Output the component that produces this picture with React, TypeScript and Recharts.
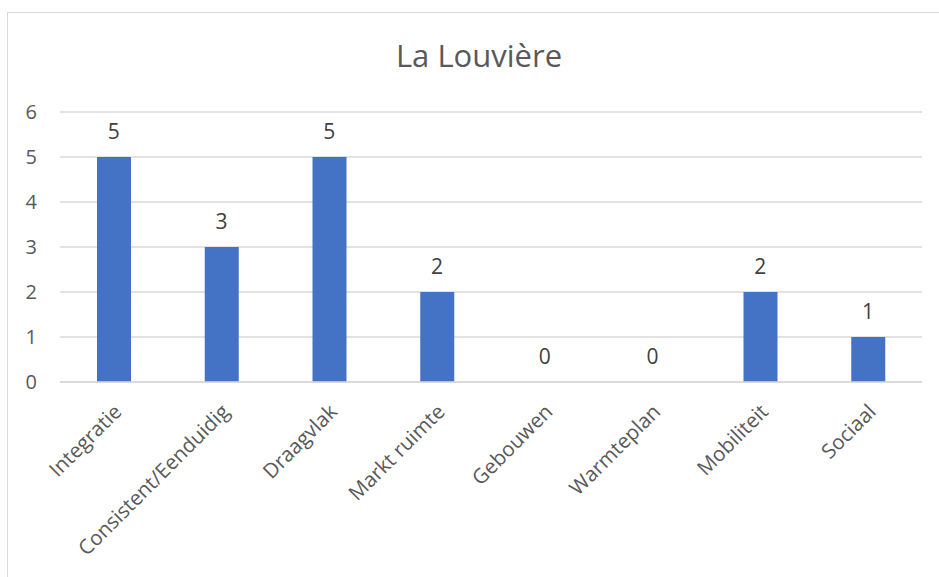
import React from "react";
import { ComposedChart, Bar, Line, XAxis, YAxis, CartesianGrid, LabelList } from "recharts";

const title = "La Louvière";
const categories = ["Integratie", "Consistent/Eenduidig", "Draagvlak", "Markt ruimte", "Gebouwen", "Warmteplan", "Mobiliteit", "Sociaal"];
const values = [5, 3, 5, 2, 0, 0, 2, 1];
const yTicks = [0, 1, 2, 3, 4, 5, 6];

const data = categories.map((name, i) => ({ name, value: values[i] }));

const FONT = "'Open Sans', 'Noto Sans', sans-serif";

const XTick = (props: any) => {
  const { x, y, payload } = props;
  const ax = x + 9;
  const ay = y + 31;
  return (
    <text
      x={ax}
      y={ay}
      textAnchor="end"
      transform={`rotate(-45, ${ax}, ${ay})`}
      fill="#595959"
      fontSize={20.5}
      fontFamily={FONT}
    >
      {payload.value}
    </text>
  );
};

export default function App() {
  return (
    <div style={{ position: "fixed", left: 0, top: 0, width: 939, height: 577, overflow: "hidden", background: "#fff" }}>
      <div style={{ position: "absolute", left: 7, top: 12, width: 960, height: 600, border: "1px solid #d9d9d9", boxSizing: "border-box" }} />
      <div style={{ position: "absolute", left: 0, top: 0 }}>
        <ComposedChart width={939} height={577} data={data} margin={{ top: 112, right: 17, bottom: 0, left: 0 }}>
          <text x={479} y={67} textAnchor="middle" fill="#595959" fontSize={31} fontFamily={FONT}>
            {title}
          </text>
          <CartesianGrid vertical={false} stroke="#d9d9d9" strokeWidth={1.5} />
          <XAxis
            dataKey="name"
            interval={0}
            tick={<XTick />}
            tickLine={false}
            axisLine={{ stroke: "#d9d9d9", strokeWidth: 1.5 }}
            tickSize={0}
            tickMargin={0}
            height={195}
          />
          <YAxis
            domain={[0, 6]}
            ticks={yTicks}
            width={60}
            axisLine={false}
            tickLine={false}
            tickSize={0}
            tickMargin={23}
            tick={{ fill: "#595959", fontSize: 20, fontFamily: FONT }}
          />
          <Bar dataKey="value" fill="#4472C4" barSize={34} isAnimationActive={false} />
          <Line dataKey="value" stroke="none" dot={false} activeDot={false} isAnimationActive={false} legendType="none">
            <LabelList dataKey="value" position="top" offset={18} fill="#404040" fontSize={21} fontFamily={FONT} />
          </Line>
        </ComposedChart>
      </div>
    </div>
  );
}
